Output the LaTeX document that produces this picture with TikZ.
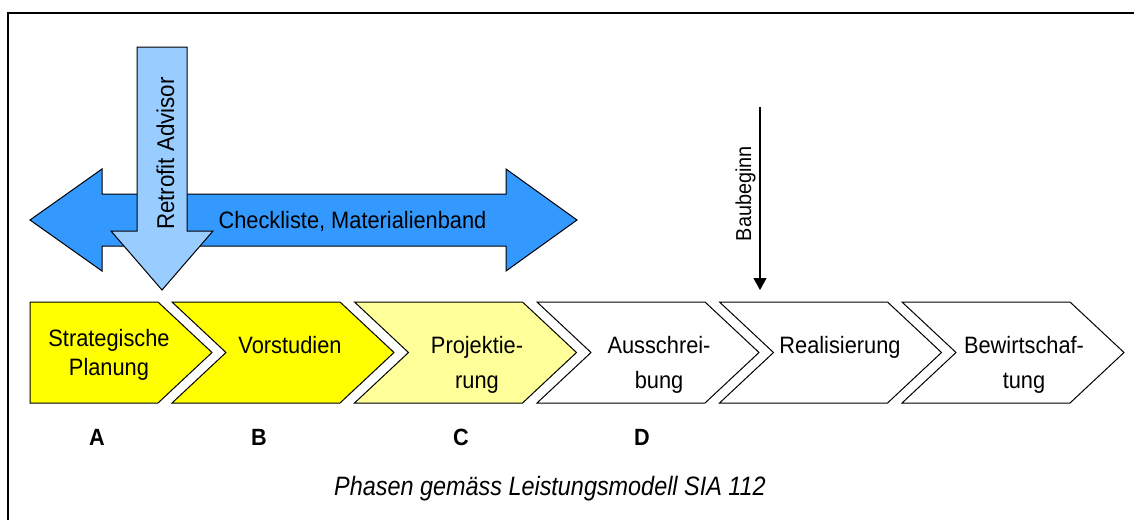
\documentclass[tikz,border=0pt]{standalone}
\usepackage{fontspec}
\setmainfont[FakeStretch=0.92]{Liberation Sans}
\newfontfamily\captionfont[FakeStretch=0.88]{Liberation Sans}
\usetikzlibrary{arrows.meta}

\definecolor{phaseyellow}{HTML}{FFFF00}
\definecolor{phaselight}{HTML}{FFFF99}
\definecolor{toolblue}{HTML}{3399FF}
\definecolor{advisorblue}{HTML}{99CCFF}

\tikzset{
  phase/.style={draw=black, line width=1pt, line join=miter},
  blockarrow/.style={draw=black, line width=1pt, line join=miter},
  phasetext/.style={font=\fontsize{23.7}{35}\selectfont, align=center, anchor=base, inner sep=0pt},
  letter/.style={font=\bfseries\fontsize{23.5}{26}\selectfont, anchor=base, inner sep=0pt}
}

\begin{document}
\begin{tikzpicture}[x=1pt,y=-1pt]
  \useasboundingbox (0,0) rectangle (1134,520);
  \draw[line width=2.2pt] (8,520) -- (8,13) -- (1134,13);

  % phases
  \filldraw[phase, fill=phaseyellow] (30,302) -- (158,302) -- (212,352.5) -- (158,403) -- (30,403) -- cycle;
  \foreach \L/\col in {172/phaseyellow, 354.5/phaselight, 537/white, 719.5/white, 902/white}
    \filldraw[phase, fill=\col] (\L,302) -- ++(168,0) -- ++(54,50.5) -- ++(-54,50.5)
      -- ++(-168,0) -- ++(54,-50.5) -- cycle;

  % base anchor of a two line node sits on its last line
  \node[phasetext, font=\fontsize{23.7}{29}\selectfont] (strat) at (109,375) {Strategische\\Planung};
  \node[phasetext] (vorst) at (290,353) {Vorstudien};
  \node[phasetext] (proj)  at (477,388) {Projektie-\\rung};
  \node[phasetext] (aus)   at (659,388) {Ausschrei-\\bung};
  \node[phasetext] (real)  at (840,353) {Realisierung};
  \node[phasetext] (bew)   at (1024,388) {Bewirtschaf-\\tung};

  \node[letter] (la) at (97,445)  {A};
  \node[letter] (lb) at (259,445) {B};
  \node[letter] (lc) at (461,445) {C};
  \node[letter] (ld) at (642,445) {D};

  % tools
  \filldraw[blockarrow, fill=toolblue] (30,220) -- (102,169) -- (102,194) -- (506,194) -- (506,169)
    -- (577,220) -- (506,271) -- (506,246) -- (102,246) -- (102,271) -- cycle;
  \node[font=\fontsize{23.7}{26}\selectfont, anchor=base, inner sep=0pt] (checkl) at (352.5,228) {Checkliste, Materialienband};

  \filldraw[blockarrow, fill=advisorblue] (137,47) -- (187,47) -- (187,231) -- (213,231) -- (162,290)
    -- (111,231) -- (137,231) -- cycle;
  \node[font=\fontsize{24.3}{26}\selectfont, rotate=90, anchor=base, inner sep=0pt] (retro) at (174,153.5) {Retrofit Advisor};

  % Baubeginn
  \coordinate (bautop) at (760,107);
  \coordinate (bauspitze) at (760,290);
  \draw[line width=1.3pt, -{Triangle[width=13pt,length=12pt]}] (bautop) -- (bauspitze);
  \node[font=\fontsize{21.6}{24}\selectfont, rotate=90, anchor=base, inner sep=0pt] (bau) at (751,193.5) {Baubeginn};

  \node[font=\captionfont\itshape\fontsize{26.6}{30}\selectfont, anchor=base, inner sep=0pt] (caption) at (550,495) {Phasen gemäss Leistungsmodell SIA 112};
\end{tikzpicture}
\end{document}
